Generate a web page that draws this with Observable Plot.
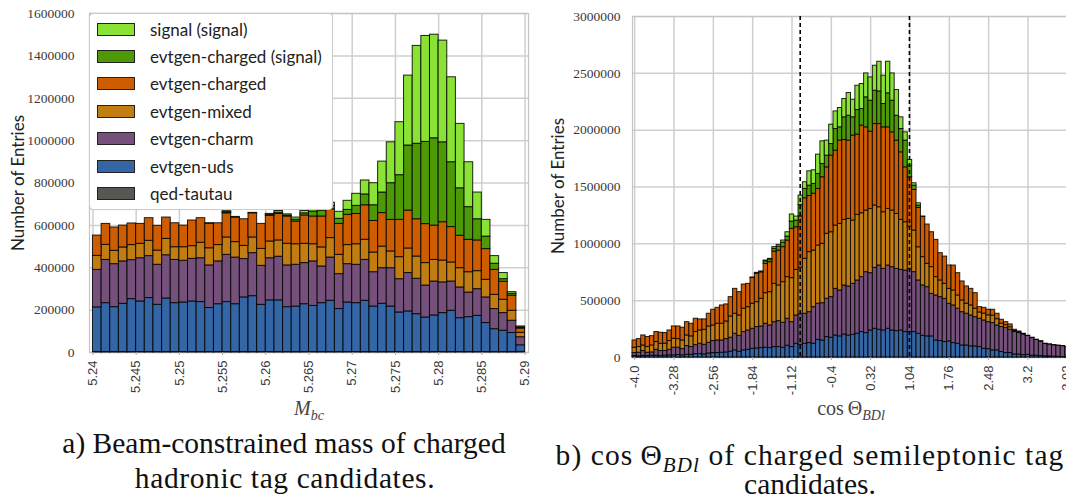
<!DOCTYPE html>
<html><head><meta charset="utf-8">
<script src="https://cdn.jsdelivr.net/npm/d3@7"></script>
<script src="https://cdn.jsdelivr.net/npm/@observablehq/plot@0.6"></script>
<style>
html,body{margin:0;padding:0;background:#fff;}
#wrap{position:relative;width:1066px;height:501px;overflow:hidden;background:#fff;}
.abs{position:absolute;}
.ylab{font-family:Lato,"Open Sans",sans-serif;font-size:17px;color:#222;white-space:nowrap;transform:translate(-50%,-50%) rotate(-90deg);}
.xlab{font-family:"Liberation Serif",serif;font-size:20px;color:#444;white-space:nowrap;transform:translateX(-50%);}
.cap{font-family:"Liberation Serif",serif;font-size:29.5px;color:#111;white-space:nowrap;text-align:center;transform:translate(-50%,-50%);line-height:26px;}
.cap sub{line-height:0;font-size:21px;}
.legend{background:#fff;border:1px solid #ccc;border-radius:4px;box-sizing:border-box;box-shadow:0 0 1px rgba(0,0,0,0.15);}
.li{position:absolute;left:7px;height:14px;display:flex;align-items:center;font-family:Lato,"Open Sans",sans-serif;font-size:17px;color:#222;white-space:nowrap;}
.sw{width:38px;height:13px;border:1px solid #222;box-sizing:border-box;margin-right:15px;}
</style></head><body><div id="wrap"></div>
<script>
// ---------- series (bottom of stack first) ----------
const series = ["qed-tautau","evtgen-uds","evtgen-charm","evtgen-mixed","evtgen-charged","evtgen-charged (signal)","signal (signal)"];
const colors = ["#555753","#3465a4","#75507b","#c17d11","#ce5c00","#4e9a06","#8ae234"];
const legendOrder = ["signal (signal)","evtgen-charged (signal)","evtgen-charged","evtgen-mixed","evtgen-charm","evtgen-uds","qed-tautau"];
const UNIT = 1000; // values below are in thousands of entries

// ---------- (a) M_bc histogram: 50 bins of 0.001 from 5.24 ----------
const mbcStart = 5.24, mbcBin = 0.001, mbcBins = 50;
const mbcUds = [211,231,212,228,250,239,255,223,253,231,234,239,236,208,226,236,226,258,264,223,244,244,212,215,226,
                218,231,242,203,234,231,242,215,228,215,187,192,179,163,173,184,195,160,165,171,137,108,101,90,31];
const mbcCharm = [177,204,203,200,184,204,198,189,204,204,197,201,207,201,202,223,220,181,203,184,199,206,197,197,194,
                  210,173,204,165,181,181,193,162,168,181,157,181,167,151,160,145,138,145,116,126,121,95,83,58,38];
const mbcMixed = [66,71,63,66,71,68,72,67,77,60,64,60,73,81,77,82,73,62,74,80,79,77,102,97,91,
                  81,90,92,91,90,97,95,93,102,79,104,116,105,106,102,103,90,91,96,85,83,67,63,47,21];
const mbcCharged = [96,99,110,103,102,94,107,117,101,113,102,121,116,116,103,114,116,126,114,118,121,125,129,107,134,
                    131,146,136,146,143,143,163,149,158,149,176,179,176,184,162,181,167,153,153,145,145,118,85,71,20];
const mbcChargedSig = [0,0,0,0,0,0,0,0,0,0,0,0,0,2,0,5,3,0,2,0,5,6,4,9,10,
                       23,28,16,24,23,38,51,74,97,173,211,307,356,388,412,377,306,224,154,100,59,29,12,9,5];
const mbcSignal = [0,0,0,0,0,0,0,0,0,0,0,0,0,0,0,5,0,0,0,0,4,8,6,10,11,
                   27,17,15,33,43,57,66,104,146,193,250,330,462,500,489,480,401,304,212,126,79,36,29,8,5];
const mbcQed = [2,2,2,2,2,2,2,2,2,2,2,2,2,2,2,2,2,2,2,2,2,2,2,2,2,
                2,2,2,2,2,2,2,2,2,2,2,2,2,2,2,2,2,2,2,2,2,2,2,2,3];
const mbcTicks = [5.24,5.245,5.25,5.255,5.26,5.265,5.27,5.275,5.28,5.285,5.29];
const mbcTickLabels = ["5.24","5.245","5.25","5.255","5.26","5.265","5.27","5.275","5.28","5.285","5.29"];
const mbcYTicks = [0,200000,400000,600000,800000,1000000,1200000,1400000,1600000];

// ---------- (b) cos Theta_BDl histogram: 100 bins of 0.08, centres -4.00 ... 3.92 ----------
const cosStart = -4.04, cosBin = 0.08, cosBins = 100;
const cosUds = [12,9,12,12,15,15,12,15,18,18,21,18,23,23,29,29,26,35,38,38,41,44,50,62,50,62,67,76,79,82,85,82,91,91,85,103,91,120,110,
  120,126,120,155,149,179,173,193,185,202,193,199,208,223,214,237,252,243,237,252,237,231,237,223,223,223,
  208,190,185,185,149,144,135,141,126,120,105,105,97,97,
  91,76,73,62,62,47,38,38,26,26,20,23,15,15,12,9,9,6,6,3,3];
const cosCharm = [26,32,44,29,29,52,44,41,49,67,64,55,77,68,79,91,85,94,106,111,108,117,123,146,140,161,170,176,188,190,211,199,219,228,220,237,219,249,270,
  264,272,322,317,328,337,357,410,404,431,431,448,469,483,536,504,536,565,542,556,557,548,533,541,556,527,
  469,443,433,374,396,386,380,331,331,308,293,279,272,257,
  249,249,237,240,219,220,220,205,197,188,182,165,155,138,127,110,104,101,96,96,87];
const cosMixed = [47,50,49,50,61,68,64,64,77,79,76,76,93,94,115,117,132,143,137,147,147,155,187,176,179,205,205,220,219,244,269,293,337,314,357,366,387,401,410,
  483,528,498,512,522,571,571,557,586,577,594,557,577,562,542,565,548,513,498,498,498,483,440,425,372,366,
  292,249,205,235,161,147,132,131,132,117,103,88,88,74,
  55,60,60,65,55,30,25,22,10,6,3,1,1,1,1,0,0,0,0,0,0];
const cosCharged = [64,70,88,88,82,88,97,94,93,108,111,112,117,111,117,97,91,112,138,140,161,150,170,219,205,213,205,226,250,232,258,264,284,307,308,322,434,375,450,
  533,494,500,498,586,585,674,659,732,703,689,747,706,771,732,680,717,732,747,718,688,645,594,483,434,357,
  346,354,346,307,328,240,240,205,219,196,167,152,146,137,
  47,51,49,52,48,34,27,25,10,8,3,1,2,1,1,1,1,1,1,1,1];
const cosChargedSig = [0,0,0,0,0,0,0,0,0,0,0,0,0,0,0,0,0,0,0,0,0,0,0,0,0,0,0,5,8,8,22,22,24,35,40,35,64,59,100,
  82,91,86,132,117,103,102,190,117,199,219,161,216,146,264,272,293,287,205,299,278,219,205,235,102,38,
  21,3,0,0,0,0,0,0,0,0,0,0,0,0,
  0,0,0,0,0,0,0,0,0,0,0,0,0,0,0,0,0,0,0,0,0];
const cosSignal = [0,0,0,0,0,0,0,0,0,0,0,0,0,0,0,0,0,0,0,0,0,0,0,0,0,0,0,0,0,0,7,7,15,15,18,38,62,35,83,
  59,126,120,170,199,132,170,155,170,161,200,155,214,220,210,205,220,261,249,278,240,226,103,73,50,21,
  20,0,0,0,0,0,0,0,0,0,0,0,0,0,
  0,0,0,0,0,0,0,0,0,0,0,0,0,0,0,0,0,0,0,0,0];
const cosQed = Array.from({length: 100}, () => 1);
const cosTicks = [-4.0,-3.28,-2.56,-1.84,-1.12,-0.4,0.32,1.04,1.76,2.48,3.2,3.92];
const cosTickLabels = ["-4.0","-3.28","-2.56","-1.84","-1.12","-0.4","0.32","1.04","1.76","2.48","3.2","3.92"];
const cosYTicks = [0,500000,1000000,1500000,2000000,2500000,3000000];
const cosCuts = [-0.97, 1.03];

// ---------- build tables ----------
function rows(start, bin, n, layers) {
  const out = [];
  series.forEach((s, si) => {
    layers[si].forEach((v, i) => {
      const x1 = start + i * bin;
      out.push({x1, x2: x1 + bin, series: s, value: v * UNIT});
    });
  });
  return out;
}
const mbcRows = rows(mbcStart, mbcBin, mbcBins, [mbcQed, mbcUds, mbcCharm, mbcMixed, mbcCharged, mbcChargedSig, mbcSignal]);
const cosRows = rows(cosStart, cosBin, cosBins, [cosQed, cosUds, cosCharm, cosMixed, cosCharged, cosChargedSig, cosSignal]);

const wrap = document.getElementById("wrap");
function put(el, left, top) { el.classList.add("abs"); el.style.left = left + "px"; el.style.top = top + "px"; wrap.appendChild(el); return el; }
function div(cls, html) { const d = document.createElement("div"); d.className = cls; d.innerHTML = html; return d; }

const fmtInt = d3.format("d");
function chart({rowsData, xDomain, xTicks, xLabels, yDomain, yTicks, cuts, width, height, margins}) {
  const marks = [
    Plot.gridX(xTicks, {stroke: "#cfcfcf", strokeOpacity: 1, strokeWidth: 1.5}),
    Plot.gridY(yTicks, {stroke: "#cfcfcf", strokeOpacity: 1, strokeWidth: 1.5}),
    Plot.frame({stroke: "#c4c4c4", strokeWidth: 1.2}),
    Plot.rectY(rowsData, {x1: "x1", x2: "x2", y: "value", fill: "series", order: series,
      stroke: "#000", strokeOpacity: 0.85, strokeWidth: 1}),
  ];
  if (cuts) marks.push(Plot.ruleX(cuts, {stroke: "#000", strokeWidth: 1.6, strokeDasharray: "4,3"}));
  marks.push(
    Plot.axisY(yTicks, {tickFormat: fmtInt, tickSize: 0, tickPadding: margins.yPad, fontFamily: "Liberation Serif", fontSize: 13.5, label: null}),
    Plot.axisX(xTicks, {tickFormat: (d, i) => xLabels[i], tickRotate: -90, tickSize: 3, tickPadding: 5, stroke: "#aaa",
      fontFamily: "Liberation Sans", fontSize: 13, label: null})
  );
  return Plot.plot({
    width, height,
    marginLeft: margins.left, marginRight: margins.right, marginTop: margins.top, marginBottom: margins.bottom,
    x: {domain: xDomain},
    y: {domain: yDomain},
    color: {domain: series, range: colors},
    style: {background: "transparent", color: "#3a3a3a", overflow: "visible"},
    marks
  });
}

// (a)
const left = chart({rowsData: mbcRows, xDomain: [5.2396, 5.2904], xTicks: mbcTicks, xLabels: mbcTickLabels,
  yDomain: [0, 1600000], yTicks: mbcYTicks, width: 540, height: 425,
  margins: {left: 89, right: 12, top: 13, bottom: 73, yPad: 15}});
put(left, 0, 0);
// (b)
const right = chart({rowsData: cosRows, xDomain: [-4.04, 4.07], xTicks: cosTicks, xLabels: cosTickLabels,
  yDomain: [0, 3000000], yTicks: cosYTicks, cuts: cosCuts, width: 540, height: 425,
  margins: {left: 92, right: 5, top: 16, bottom: 68, yPad: 12}});
put(right, 540, 0);

// legend for (a)
const lg = put(div("legend", ""), 89, 13);
lg.style.width = "244px"; lg.style.height = "197px";
legendOrder.forEach((s, i) => {
  const item = div("li", `<div class="sw" style="background:${colors[series.indexOf(s)]}"></div><span>${s}</span>`);
  item.style.top = (8 + i * 27.4) + "px";
  lg.appendChild(item);
});

// axis titles
put(div("ylab", "Number of Entries"), 17, 183);
put(div("ylab", "Number of Entries"), 557, 186);
put(div("xlab", "<i>M</i><sub style='font-size:14px;line-height:0'><i>bc</i></sub>"), 309, 397);
put(div("xlab", "cos&thinsp;Θ<sub style='font-size:14px;line-height:0'><i>BDl</i></sub>"), 851, 397);

// captions (one div per line, positioned by line centre)
put(div("cap", "a) Beam-constrained mass of charged"), 284, 443);
const a2 = put(div("cap", "hadronic tag candidates."), 285, 478);
a2.style.letterSpacing = "0.6px";
const b1 = put(div("cap", "b) cos&thinsp;Θ<sub><i>BDl</i></sub> of charged semileptonic tag"), 810, 455);
b1.style.letterSpacing = "1.1px";
put(div("cap", "candidates."), 810, 484);
</script></body></html>
